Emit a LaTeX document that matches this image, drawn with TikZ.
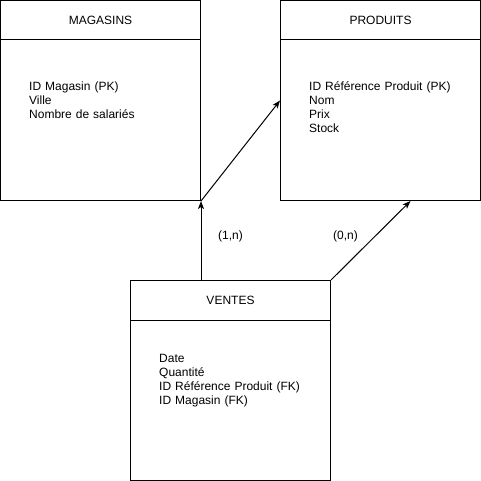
\documentclass[tikz,border=0pt]{standalone}
\usepackage{fontspec}
\setmainfont{Liberation Sans}
\usetikzlibrary{arrows.meta}
\begin{document}
\begin{tikzpicture}[x=1pt,y=-1pt,
  entity/.style={draw=black, line width=1pt, minimum width=200pt, minimum height=200pt, inner sep=0pt, fill=white},
  title/.style={font=\fontsize{12}{14}\selectfont, inner sep=0pt},
  attr/.style={font=\fontsize{12}{14}\selectfont, inner sep=0pt, text width=190pt, align=left, anchor=base west},
  card/.style={font=\fontsize{12}{14}\selectfont, inner sep=0pt},
  link/.style={draw=black, line width=1pt, -{Stealth[length=8pt,width=6pt,inset=2pt]}}]
\useasboundingbox[fill=white] (0,0) rectangle (481,481);
% entities
\node[entity] (mag) at (100.5,100.5) {};
\node[entity] (prod) at (380.5,100.5) {};
\node[entity] (vent) at (230.5,380.5) {};
\draw[line width=1pt] ([yshift=-40pt]mag.north west) -- ([yshift=-40pt]mag.north east);
\draw[line width=1pt] ([yshift=-40pt]prod.north west) -- ([yshift=-40pt]prod.north east);
\draw[line width=1pt] ([yshift=-40pt]vent.north west) -- ([yshift=-40pt]vent.north east);
% titles
\node[title] (magt) at (100.5,20.5) {MAGASINS};
\node[title] (prodt) at (380.5,20.5) {PRODUITS};
\node[title] (ventt) at (230.5,300.5) {VENTES};
% attributes
\node[attr] (maga) at (29,90.5) {ID Magasin (PK)\\Ville\\Nombre de salariés};
\node[attr] (proda) at (309,90.5) {ID Référence Produit (PK)\\Nom\\Prix\\Stock};
\node[attr] (venta) at (159,362.5) {Date\\Quantité\\ID Référence Produit (FK)\\ID Magasin (FK)};
% connectors
\draw[link] (mag.south east) -- (prod.west);
\draw[link] (vent.north -| mag.south east) -- (mag.south east);
\draw[link] (vent.north east) -- ([xshift=30pt]prod.south);
% cardinalities
\node[card] (c1) at (230.5,236) {(1,n)};
\node[card] (c2) at (345.5,236) {(0,n)};
\end{tikzpicture}
\end{document}
